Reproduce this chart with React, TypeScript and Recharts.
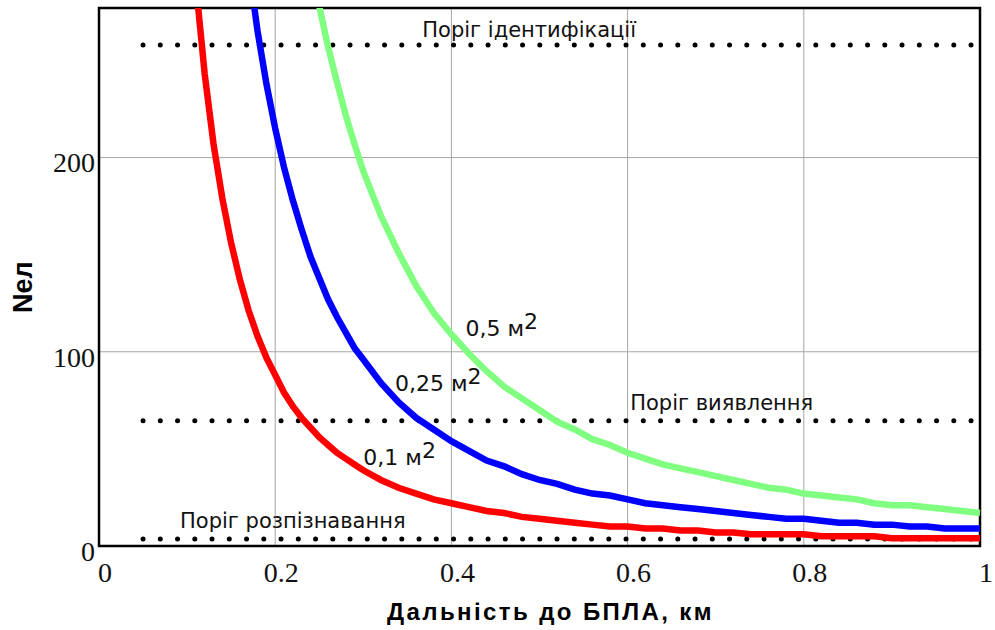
import { LineChart, Line, XAxis, YAxis, CartesianGrid, ReferenceArea, ReferenceDot, Label } from "recharts";

// distance, km
const distRed = [0.10, 0.11, 0.12, 0.13, 0.14, 0.15, 0.16, 0.17, 0.18, 0.19, 0.20, 0.21, 0.22, 0.23, 0.24, 0.25, 0.26, 0.27, 0.28, 0.29, 0.30,
  0.32, 0.34, 0.36, 0.38, 0.40, 0.42, 0.44, 0.46, 0.48, 0.50, 0.52, 0.54, 0.56, 0.58, 0.60, 0.62, 0.64, 0.66, 0.68, 0.70,
  0.72, 0.74, 0.76, 0.78, 0.80, 0.82, 0.84, 0.86, 0.88, 0.90, 0.92, 0.94, 0.96, 0.98, 1.00];
const nRed = [350, 289, 243, 207, 179, 156, 137, 121, 108, 97, 88, 79, 72, 66, 61, 56, 52, 48, 45, 42, 39,
  34, 30, 27, 24, 22, 20, 18, 17, 15, 14, 13, 12, 11, 10, 10, 9, 9, 8, 8, 7,
  7, 6, 6, 6, 6, 5, 5, 5, 5, 4, 4, 4, 4, 4, 4];

const distBlue = [0.16, 0.17, 0.18, 0.19, 0.20, 0.21, 0.22, 0.23, 0.24, 0.25, 0.26, 0.27, 0.28, 0.29, 0.30,
  0.32, 0.34, 0.36, 0.38, 0.40, 0.42, 0.44, 0.46, 0.48, 0.50, 0.52, 0.54, 0.56, 0.58, 0.60, 0.62, 0.64, 0.66, 0.68, 0.70,
  0.72, 0.74, 0.76, 0.78, 0.80, 0.82, 0.84, 0.86, 0.88, 0.90, 0.92, 0.94, 0.96, 0.98, 1.00];
const nBlue = [336, 298, 265, 238, 215, 195, 178, 163, 149, 138, 127, 118, 110, 102, 96,
  84, 74, 66, 60, 54, 49, 44, 41, 37, 34, 32, 29, 27, 26, 24, 22, 21, 20, 19, 18,
  17, 16, 15, 14, 14, 13, 12, 12, 11, 11, 10, 10, 9, 9, 9];

const distGreen = [0.24, 0.25, 0.26, 0.27, 0.28, 0.29, 0.30,
  0.32, 0.34, 0.36, 0.38, 0.40, 0.42, 0.44, 0.46, 0.48, 0.50, 0.52, 0.54, 0.56, 0.58, 0.60, 0.62, 0.64, 0.66, 0.68, 0.70,
  0.72, 0.74, 0.76, 0.78, 0.80, 0.82, 0.84, 0.86, 0.88, 0.90, 0.92, 0.94, 0.96, 0.98, 1.00];
const nGreen = [302, 278, 257, 239, 222, 207, 193,
  170, 151, 134, 120, 109, 99, 90, 82, 76, 70, 64, 60, 55, 52, 48, 45, 42, 40, 38, 36,
  34, 32, 30, 29, 27, 26, 25, 24, 22, 21, 21, 20, 19, 18, 17];

// thresholds
const thrRange = [0.05, 0.995];
const thrIdent = 258;
const thrDetect = 64.5;
const thrRecog = 3.6;

const xTicks = [0, 0.2, 0.4, 0.6, 0.8, 1];
const yTicks = [0, 100, 200];
const yMax = 277;

const zip = (xs: number[], ys: number[]) => xs.map((x, i) => ({ x, y: ys[i] }));
const redData = zip(distRed, nRed);
const blueData = zip(distBlue, nBlue);
const greenData = zip(distGreen, nGreen);
const thrLine = (v: number) => thrRange.map((x) => ({ x, y: v }));

const annoFont = "'DejaVu Sans', sans-serif";

// text labels: left edge / baseline in data units
const annotations = [
  { x: 0.367, y: 262, text: "Поріг ідентифікації", sup: "", size: 21 },
  { x: 0.603, y: 70, text: "Поріг виявлення", sup: "", size: 21 },
  { x: 0.092, y: 9.3, text: "Поріг розпізнавання", sup: "", size: 21 },
  { x: 0.416, y: 108, text: "0,5 м", sup: "2", size: 22 },
  { x: 0.336, y: 80, text: "0,25 м", sup: "2", size: 22 },
  { x: 0.3, y: 41.6, text: "0,1 м", sup: "2", size: 22 },
];

const annoLabel = (text: string, sup: string, size: number) => (props: any) => {
  const vb = props.viewBox || {};
  return (
    <text x={vb.x} y={vb.y} fontFamily={annoFont} fontSize={size} fill="#111">
      {text}
      {sup ? <tspan dy={-7}>{sup}</tspan> : null}
    </text>
  );
};

const dotted = { stroke: "#000", strokeWidth: 5, strokeDasharray: "0 17.25", strokeLinecap: "round" as const };

export default function App() {
  return (
    <div style={{ position: "absolute", left: 0, top: 0, width: 995, height: 630, background: "#fff" }}>
      <LineChart width={995} height={630} margin={{ top: 8, right: 15, bottom: 0, left: 0 }}>
        <CartesianGrid stroke="#a6a6a6" strokeWidth={1} />
        <XAxis
          dataKey="x"
          type="number"
          domain={[0, 1]}
          ticks={xTicks}
          axisLine={false}
          tickLine={false}
          height={84}
          tickMargin={10}
          tick={{ fontSize: 28, fontFamily: "'Liberation Serif', serif", fill: "#111", dx: 6 }}
        >
          <Label
            content={(p: any) => {
              const vb = p.viewBox || {};
              return (
                <text
                  x={vb.x + vb.width / 2 + 11}
                  y={620}
                  textAnchor="middle"
                  fontFamily="'Liberation Sans', Arial, sans-serif"
                  fontWeight="bold"
                  fontSize={24}
                  letterSpacing={2.4}
                  fill="#000"
                >
                  Дальність до БПЛА, км
                </text>
              );
            }}
          />
        </XAxis>
        <YAxis
          type="number"
          domain={[0, yMax]}
          allowDataOverflow
          ticks={yTicks}
          axisLine={false}
          tickLine={false}
          width={99}
          tick={{ fontSize: 28, fontFamily: "'Liberation Serif', serif", fill: "#111", dx: 4, dy: 5 }}
        >
          <Label
            content={() => (
              <text
                transform="translate(32, 313) rotate(-90)"
                x={0}
                y={0}
                fontFamily="'Liberation Sans', Arial, sans-serif"
                fontWeight="bold"
                fontSize={27}
                fill="#000"
              >
                Nел
              </text>
            )}
          />
        </YAxis>
        <ReferenceArea x1={0} x2={1} y1={0} y2={yMax} fill="none" stroke="#000" strokeWidth={2.5} ifOverflow="visible" />

        <Line data={thrLine(thrIdent)} dataKey="y" {...dotted} dot={false} isAnimationActive={false} />
        <Line data={thrLine(thrDetect)} dataKey="y" {...dotted} dot={false} isAnimationActive={false} />
        <Line data={thrLine(thrRecog)} dataKey="y" {...dotted} dot={false} isAnimationActive={false} />

        <Line data={redData} dataKey="y" stroke="#ff0000" strokeWidth={6.5} dot={false} isAnimationActive={false} />
        <Line data={blueData} dataKey="y" stroke="#0000ff" strokeWidth={6.5} dot={false} isAnimationActive={false} />
        <Line data={greenData} dataKey="y" stroke="#80ff80" strokeWidth={6.5} dot={false} isAnimationActive={false} />

        {annotations.map((a, i) => (
          <ReferenceDot key={i} x={a.x} y={a.y} r={0} fill="none" stroke="none" ifOverflow="visible" label={annoLabel(a.text, a.sup, a.size)} />
        ))}
      </LineChart>
    </div>
  );
}
